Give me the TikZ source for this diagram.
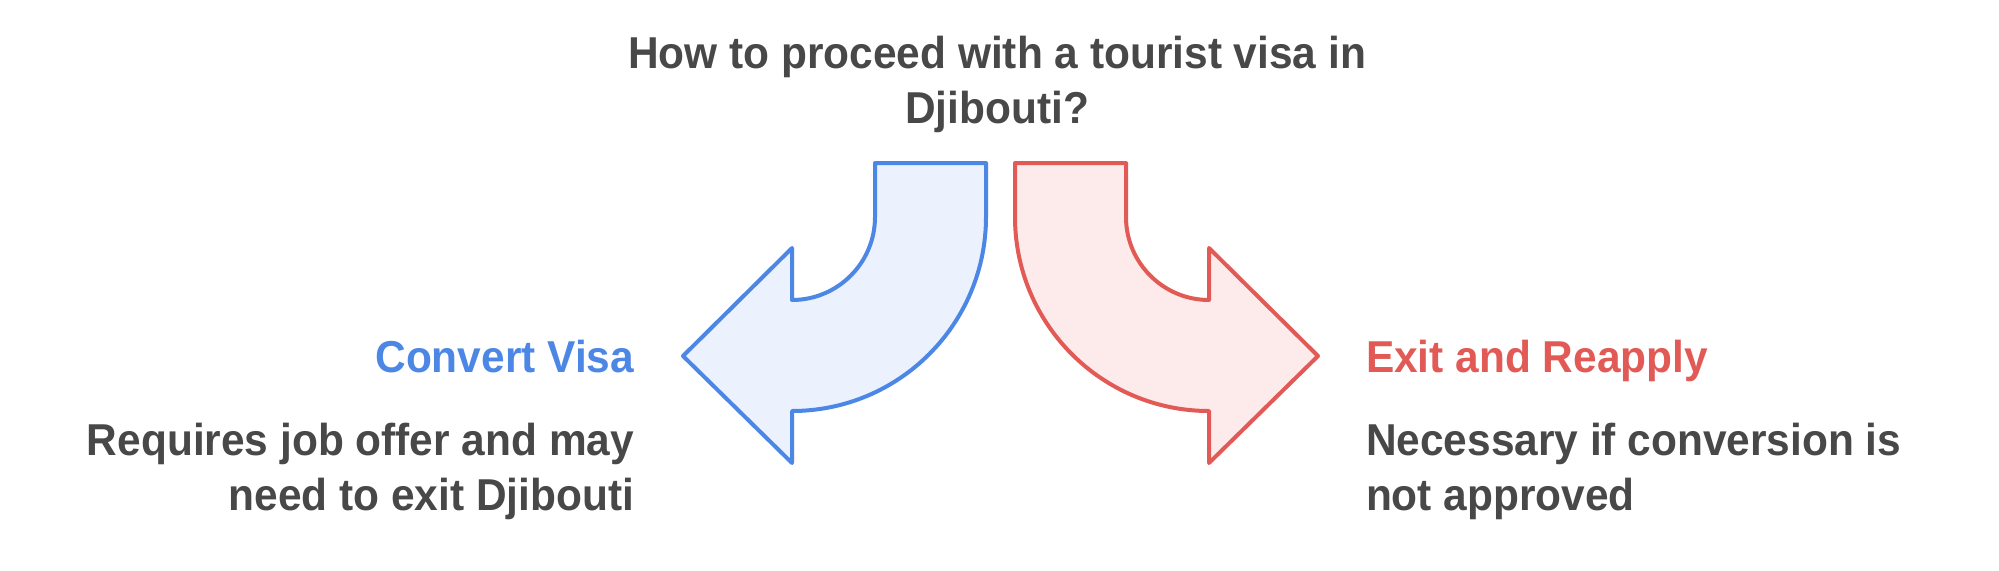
\documentclass[tikz,border=0pt]{standalone}
\usepackage{fontspec}
\setmainfont[FakeStretch=0.95]{Liberation Sans}
\usetikzlibrary{positioning}
\definecolor{txtgray}{HTML}{484848}
\definecolor{bluestroke}{HTML}{4C87E6}
\definecolor{bluefill}{HTML}{EBF2FE}
\definecolor{redstroke}{HTML}{E25A56}
\definecolor{redfill}{HTML}{FDEBEB}
\tikzset{
  txt/.style={inner sep=0pt, outer sep=0pt, font=\fontsize{33.5}{41.25}\selectfont\bfseries},
  arrowshape/.style={line width=3pt, line join=round},
}
\begin{document}
\begin{tikzpicture}[x=0.75pt, y=-0.75pt]
\useasboundingbox (0,0) rectangle (1999,571);
% blue arrow
\draw[arrowshape, draw=bluestroke, fill=bluefill]
  (875,163) -- (986,163) -- (986,217)
  .. controls (986,324.1) and (899.1,411) .. (792,411)
  -- (792,463) -- (683,356) -- (792,248) -- (792,300)
  .. controls (837.8,300) and (875,262.8) .. (875,217) -- cycle;
% red arrow
\draw[arrowshape, draw=redstroke, fill=redfill]
  (1126,163) -- (1015,163) -- (1015,217)
  .. controls (1015,324.1) and (1101.9,411) .. (1209,411)
  -- (1209,463) -- (1318,356) -- (1209,248) -- (1209,300)
  .. controls (1163.2,300) and (1126,262.8) .. (1126,217) -- cycle;
% texts (base anchor = baseline of the last line)
\node[txt, text=txtgray, align=center, anchor=base] (title) at (997,123)
  {How to proceed with a tourist visa in\\Djibouti?};
\node[txt, text=bluestroke, anchor=base east] (convhead) at (634,372) {Convert Visa};
\node[txt, text=txtgray, align=right, anchor=base east] (convtext) at (634,510)
  {Requires job offer and may\\need to exit Djibouti};
\node[txt, text=redstroke, anchor=base west] (exithead) at (1366,372) {Exit and Reapply};
\node[txt, text=txtgray, align=left, anchor=base west] (exittext) at (1366,510)
  {Necessary if conversion is\\not approved};
\end{tikzpicture}
\end{document}
